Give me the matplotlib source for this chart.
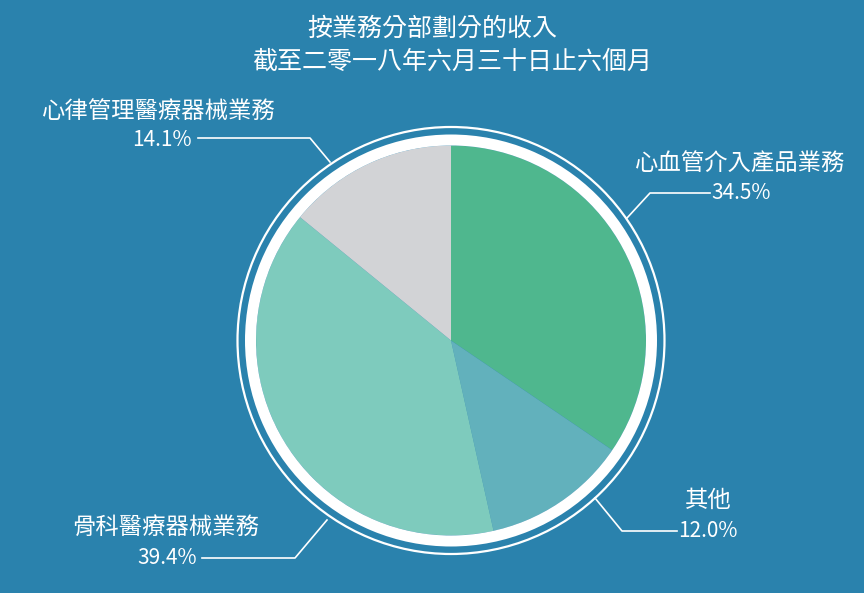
import matplotlib
matplotlib.use("Agg")
import matplotlib.pyplot as plt
from matplotlib.patches import Circle, Wedge

plt.rcParams['font.family'] = ['Noto Sans CJK TC', 'DejaVu Sans']

# ---- data ----
title_lines = ["按業務分部劃分的收入", "截至二零一八年六月三十日止六個月"]
categories = ["心血管介入產品業務", "其他", "骨科醫療器械業務", "心律管理醫療器械業務"]
shares = [34.5, 12.0, 39.4, 14.1]
pct_labels = ["34.5%", "12.0%", "39.4%", "14.1%"]
colors = ["#4fb78e", "#62b1bc", "#7ecbbd", "#d2d3d6"]
bg = "#2a82ad"

W, H = 864, 593
fig = plt.figure(figsize=(W / 100, H / 100), dpi=100, facecolor=bg)
ax = fig.add_axes([0, 0, 1, 1])
ax.set_facecolor(bg)

def Y(py):
    return H - py

cx, cy = 451, Y(340.5)
R = 195

ax.pie(shares, colors=colors, startangle=90, counterclock=False,
       center=(cx, cy), radius=R, wedgeprops=dict(linewidth=0))
# thick white ring and thin outer ring
ax.add_patch(Wedge((cx, cy), 206, 0, 360, width=11, facecolor="white", edgecolor="none"))
ax.add_patch(Circle((cx, cy), 213.5, facecolor="none", edgecolor="white", linewidth=1.6))

ax.set_xlim(0, W)
ax.set_ylim(0, H)
ax.set_aspect('auto')
ax.axis('off')

# title
ax.text(432, Y(29), title_lines[0], color="white", fontsize=18, ha="center", va="center")
ax.text(452, Y(62), title_lines[1], color="white", fontsize=18, ha="center", va="center")

lc = "white"
lw = 1.2
name_fs = 16.8
pct_fs = 15

# leader lines & labels (layout positions in pixels)
# 心血管介入產品業務 34.5%
ax.plot([627, 650, 710], [Y(218), Y(193), Y(193)], color=lc, lw=lw)
ax.text(635, Y(163), categories[0], color="white", fontsize=name_fs, ha="left", va="center")
ax.text(711, Y(193), pct_labels[0], color="white", fontsize=pct_fs, ha="left", va="center")

# 其他 12.0%
ax.plot([595, 622, 677], [Y(498), Y(531), Y(531)], color=lc, lw=lw)
ax.text(708, Y(500), categories[1], color="white", fontsize=name_fs, ha="center", va="center")
ax.text(678, Y(531), pct_labels[1], color="white", fontsize=pct_fs, ha="left", va="center")

# 骨科醫療器械業務 39.4%
ax.plot([327, 295, 202], [Y(520), Y(558), Y(558)], color=lc, lw=lw)
ax.text(72, Y(527), categories[2], color="white", fontsize=name_fs, ha="left", va="center")
ax.text(197, Y(558), pct_labels[2], color="white", fontsize=pct_fs, ha="right", va="center")

# 心律管理醫療器械業務 14.1%
ax.plot([330, 310, 198], [Y(162), Y(138), Y(138)], color=lc, lw=lw)
ax.text(42, Y(111), categories[3], color="white", fontsize=name_fs, ha="left", va="center")
ax.text(192, Y(140), pct_labels[3], color="white", fontsize=pct_fs, ha="right", va="center")

fig.savefig("out.png", dpi=100, facecolor=bg)
